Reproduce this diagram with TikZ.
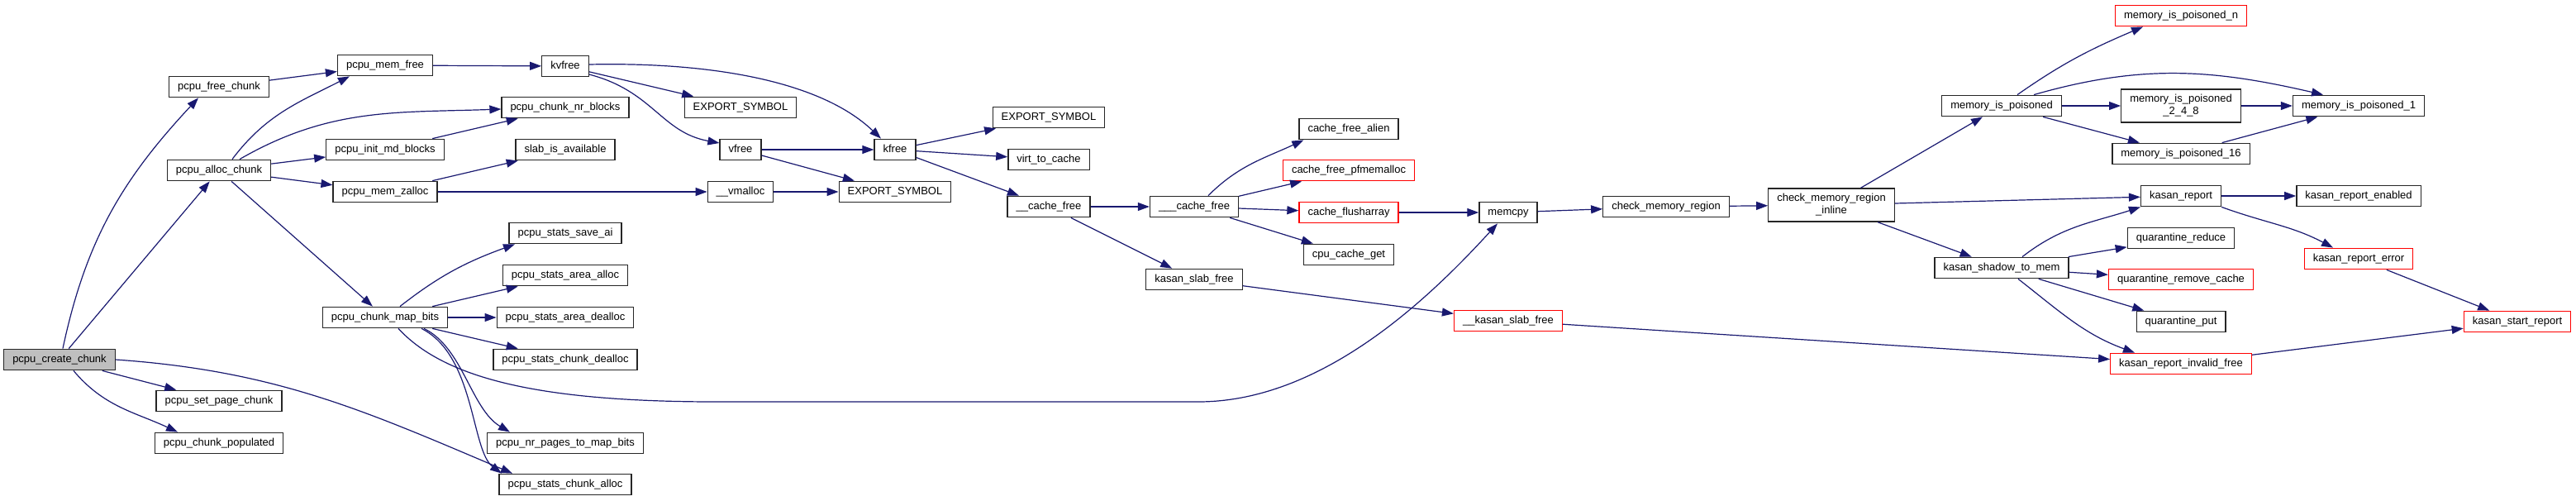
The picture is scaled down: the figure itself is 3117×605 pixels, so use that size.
\documentclass[tikz,border=0pt]{standalone}
\usepackage{fontspec}
\setmainfont{Liberation Sans}
\usepackage{tikz}
\usetikzlibrary{arrows.meta}
\definecolor{edgeblue}{HTML}{191970}
\definecolor{rootgray}{HTML}{BFBFBF}
\tikzset{
	funcnode/.style={
			draw=black!85,
			line width=1.3pt,
			fill=white,
			font=\fontsize{13pt}{15pt}\selectfont,
			inner xsep=10.5pt,
			inner ysep=0pt,
			minimum height=25.5pt,
			text height=9.4pt,
			text depth=2.8pt
		},
	rootnode/.style={
			funcnode,
			fill=rootgray
		},
	rednode/.style={
			funcnode,
			draw=red
		},
	twolinenode/.style={
			draw=black!85,
			line width=1.3pt,
			fill=white,
			font=\fontsize{13pt}{15pt}\selectfont,
			inner xsep=10.5pt,
			inner ysep=0pt,
			minimum height=40pt,
			align=center
		},
	call/.style={
			draw=edgeblue,
			line width=1.2pt
		}
}

\begin{document}
\begin{tikzpicture}[x=1pt, y=1pt, >={Triangle[length=14pt, width=10pt]}]
\useasboundingbox (0,0) rectangle (3117,-605);

\node[rootnode] (createchunk) at (72,-435)  { pcpu\_create\_chunk };
\node[funcnode] (freechunk) at (265,-105)  { pcpu\_free\_chunk };
\node[funcnode] (allocchunk) at (265,-206)  { pcpu\_alloc\_chunk };
\node[funcnode] (setpagechunk) at (265,-485)  { pcpu\_set\_page\_chunk };
\node[funcnode] (chunkpopulated) at (265,-536)  { pcpu\_chunk\_populated };
\node[funcnode] (memfree) at (466,-79)  { pcpu\_mem\_free };
\node[funcnode] (initmdblocks) at (466,-181)  { pcpu\_init\_md\_blocks };
\node[funcnode] (memzalloc) at (466,-232)  { pcpu\_mem\_zalloc };
\node[funcnode] (chunkmapbits) at (466,-384)  { pcpu\_chunk\_map\_bits };
\node[funcnode] (kvfree) at (684,-80)  { kvfree };
\node[funcnode] (chunknrblocks) at (684,-130)  { pcpu\_chunk\_nr\_blocks };
\node[funcnode] (slabavailable) at (684,-181)  { slab\_is\_available };
\node[funcnode] (statssaveai) at (684,-282)  { pcpu\_stats\_save\_ai };
\node[funcnode] (statsareaalloc) at (684,-333)  { pcpu\_stats\_area\_alloc };
\node[funcnode] (statsareadealloc) at (684,-384)  { pcpu\_stats\_area\_dealloc };
\node[funcnode] (statschunkdealloc) at (684,-435)  { pcpu\_stats\_chunk\_dealloc };
\node[funcnode] (nrpagesmapbits) at (684,-536)  { pcpu\_nr\_pages\_to\_map\_bits };
\node[funcnode] (statschunkalloc) at (684,-586)  { pcpu\_stats\_chunk\_alloc };
\node[funcnode] (exporta) at (896,-130)  { EXPORT\_SYMBOL };
\node[funcnode] (vfree) at (896,-181)  { vfree };
\node[funcnode] (vmalloc) at (896,-232)  { \_\_vmalloc };
\node[funcnode] (kfree) at (1083,-181)  { kfree };
\node[funcnode] (exportc) at (1083,-232)  { EXPORT\_SYMBOL };
\node[funcnode] (exportb) at (1269,-142)  { EXPORT\_SYMBOL };
\node[funcnode] (virttocache) at (1269,-193)  { virt\_to\_cache };
\node[funcnode] (cachefree) at (1269,-250)  { \_\_cache\_free };
\node[funcnode] (cachefreeiii) at (1445,-250)  { \_\_\_cache\_free };
\node[funcnode] (kasanslabfree) at (1445,-338)  { kasan\_slab\_free };
\node[funcnode] (freealien) at (1632,-156)  { cache\_free\_alien };
\node[rednode] (freepfmemalloc) at (1632,-206)  { cache\_free\_pfmemalloc };
\node[rednode] (flusharray) at (1632,-257)  { cache\_flusharray };
\node[funcnode] (cpucacheget) at (1632,-308)  { cpu\_cache\_get };
\node[funcnode] (memcpy) at (1825,-257)  { memcpy };
\node[rednode] (kasanslabfreeii) at (1825,-388)  { \_\_kasan\_slab\_free };
\node[funcnode] (checkregion) at (2016,-250)  { check\_memory\_region };
\node[twolinenode] (checkinline) at (2216,-248)  { check\_memory\_region\\\_inline };
\node[funcnode] (poisoned) at (2422,-128)  { memory\_is\_poisoned };
\node[funcnode] (shadowtomem) at (2422,-324)  { kasan\_shadow\_to\_mem };
\node[rednode] (poisonedn) at (2639,-19)  { memory\_is\_poisoned\_n };
\node[twolinenode] (poisonedeight) at (2639,-128)  { memory\_is\_poisoned\\\_2\_4\_8 };
\node[funcnode] (poisonedsixteen) at (2639,-186)  { memory\_is\_poisoned\_16 };
\node[funcnode] (kasanreport) at (2639,-237)  { kasan\_report };
\node[funcnode] (quarreduce) at (2639,-288)  { quarantine\_reduce };
\node[rednode] (quarremove) at (2639,-338)  { quarantine\_remove\_cache };
\node[funcnode] (quarput) at (2639,-389)  { quarantine\_put };
\node[rednode] (invalidfree) at (2639,-440)  { kasan\_report\_invalid\_free };
\node[funcnode] (poisonedone) at (2854,-128)  { memory\_is\_poisoned\_1 };
\node[funcnode] (reportenabled) at (2854,-237)  { kasan\_report\_enabled };
\node[rednode] (reporterror) at (2854,-313)  { kasan\_report\_error };
\node[rednode] (startreport) at (3046,-389)  { kasan\_start\_report };

\draw[call, ->] ([xshift=4pt]createchunk.north) to[out=78, in=-133] ([xshift=-25pt]freechunk.south);
\draw[call, ->] (createchunk) -- (allocchunk);
\draw[call, ->] (createchunk) -- (setpagechunk);
\draw[call, ->] ([xshift=17pt]createchunk.south) to[out=-50, in=155] ([xshift=-50pt]chunkpopulated.north);
\draw[call, ->] (createchunk.east) to[out=-4, in=157] ([xshift=-64pt]statschunkalloc.north);

\draw[call, ->] (freechunk) -- (memfree);
\draw[call, ->] ([xshift=16pt]allocchunk.north) to[out=53, in=207] ([xshift=-43pt]memfree.south);
\draw[call, ->] ([xshift=25pt]allocchunk.north) to[out=30, in=182] ([yshift=-2pt]chunknrblocks.west);
\draw[call, ->] (allocchunk) -- (initmdblocks);
\draw[call, ->] (allocchunk) -- (memzalloc);
\draw[call, ->] (allocchunk) -- (chunkmapbits);

\draw[call, ->] (memfree) -- (kvfree);
\draw[call, ->] (initmdblocks) -- (chunknrblocks);
\draw[call, ->] (memzalloc) -- (slabavailable);
\draw[call, ->] (memzalloc) -- (vmalloc);

\draw[call, ->] ([xshift=18pt]chunkmapbits.north) to[out=38, in=200] ([xshift=-61pt]statssaveai.south);
\draw[call, ->] (chunkmapbits) -- (statsareaalloc);
\draw[call, ->] (chunkmapbits) -- (statsareadealloc);
\draw[call, ->] (chunkmapbits) -- (statschunkdealloc);
\draw[call, ->] ([xshift=47pt]chunkmapbits.south) .. controls (560,-420) and (570,-495) .. ([xshift=-67pt]nrpagesmapbits.north);
\draw[call, ->] ([xshift=44pt]chunkmapbits.south) .. controls (575,-430) and (570,-545) .. ([xshift=-77pt]statschunkalloc.north);
\draw[call, ->] ([xshift=16pt]chunkmapbits.south) .. controls (540,-460) and (660,-487) .. (880,-486) -- (1450,-486) .. controls (1600,-486) and (1730,-360) .. ([xshift=-13pt]memcpy.south);

\draw[call, ->] ([yshift=2pt]kvfree.east) .. controls (850,-75) and (990,-95) .. ([xshift=-17pt]kfree.north);
\draw[call, ->] (kvfree) -- (exporta);
\draw[call, ->] ([yshift=-10pt]kvfree.east) .. controls (790,-110) and (800,-160) .. ([yshift=8pt]vfree.west);

\draw[call, ->] (vfree) -- (kfree);
\draw[call, ->] (vfree) -- (exportc);
\draw[call, ->] (vmalloc) -- (exportc);

\draw[call, ->] (kfree) -- (exportb);
\draw[call, ->] (kfree) -- (virttocache);
\draw[call, ->] (kfree) -- (cachefree);

\draw[call, ->] (cachefree) -- (cachefreeiii);
\draw[call, ->] (cachefree) -- (kasanslabfree);

\draw[call, ->] ([xshift=17pt]cachefreeiii.north) to[out=45, in=205] ([xshift=6pt]freealien.south west);
\draw[call, ->] (cachefreeiii) -- (freepfmemalloc);
\draw[call, ->] (cachefreeiii) -- (flusharray);
\draw[call, ->] (cachefreeiii) -- (cpucacheget);

\draw[call, ->] (flusharray) -- (memcpy);
\draw[call, ->] (kasanslabfree) -- (kasanslabfreeii);
\draw[call, ->] (memcpy) -- (checkregion);
\draw[call, ->] (checkregion) -- (checkinline);

\draw[call, ->] (checkinline) -- (poisoned);
\draw[call, ->] (checkinline) -- (kasanreport);
\draw[call, ->] (checkinline) -- (shadowtomem);

\draw[call, ->] ([xshift=19pt]poisoned.north) to[out=35, in=203] ([xshift=-46pt]poisonedn.south);
\draw[call, ->] ([xshift=39pt]poisoned.north) to[out=16, in=167] ([xshift=-43pt]poisonedone.north);
\draw[call, ->] (poisoned) -- (poisonedeight);
\draw[call, ->] (poisoned) -- (poisonedsixteen);
\draw[call, ->] (poisonedeight) -- (poisonedone);
\draw[call, ->] (poisonedsixteen) -- (poisonedone);

\draw[call, ->] (kasanreport) -- (reportenabled);
\draw[call, ->] (kasanreport.south east) to[out=-20, in=152] ([xshift=-31pt]reporterror.north);

\draw[call, ->] ([xshift=25pt]shadowtomem.north) to[out=38, in=198] (kasanreport.south west);
\draw[call, ->] (shadowtomem) -- (quarreduce);
\draw[call, ->] (shadowtomem) -- (quarremove);
\draw[call, ->] (shadowtomem) -- (quarput);
\draw[call, ->] ([xshift=20pt]shadowtomem.south) to[out=-38, in=160] ([xshift=-56pt]invalidfree.north);

\draw[call, ->] (kasanslabfreeii) -- (invalidfree);
\draw[call, ->] (reporterror) -- (startreport);
\draw[call, ->] (invalidfree) -- (startreport);

\end{tikzpicture}
\end{document}
